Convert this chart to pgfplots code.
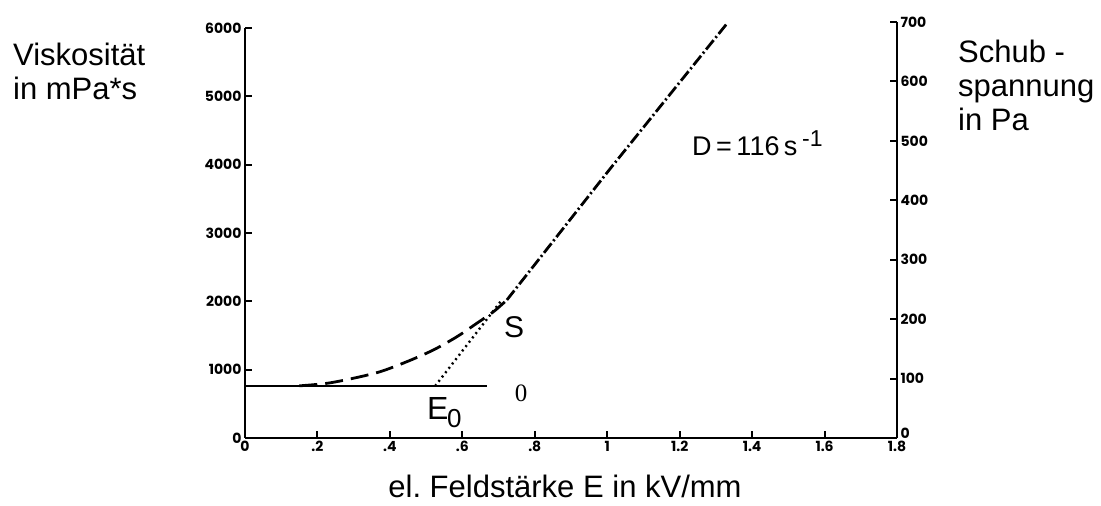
\documentclass[border=0pt]{standalone}
\usepackage{fontspec}
\setmainfont{Liberation Sans}
\newfontfamily\tickfont{Poppins}
\newfontfamily\seriffont{Liberation Serif}
\usepackage{pgfplots}
\pgfplotsset{compat=1.18}

\begin{document}
\begin{tikzpicture}[x=1bp,y=1bp]
\path[use as bounding box] (0,0) rectangle (1101,506);

% left axis: viscosity
\begin{axis}[
    at={(245bp,68bp)}, anchor=south west,
    scale only axis, width=652bp, height=410bp,
    xmin=0, xmax=1.8, ymin=0, ymax=6000,
    axis x line*=bottom, axis y line*=left,
    axis line style={line width=2.6pt, black},
    tick align=inside, major tick length=7bp,
    tick style={line width=2pt, black},
    xtick={0,0.2,0.4,0.6,0.8,1,1.2,1.4,1.6,1.8},
    xticklabels={0,.2,.4,.6,.8,1,1.2,1.4,1.6,1.8},
    ytick={0,1000,2000,3000,4000,5000,6000},
    yticklabels={0,1000,2000,3000,4000,5000,6000},
    ticklabel style={font=\tickfont\bfseries\fontsize{14bp}{14bp}\selectfont},
    clip=false,
]
% base line (field off)
\addplot[black, line width=2.8pt] coordinates {(0,761) (0.668,761)};
% lower part, long dashes
\addplot[black, line width=2.8pt, smooth, dash pattern=on 18bp off 8bp] coordinates {
    (0.15,763) (0.226,800) (0.299,874) (0.373,970) (0.447,1117)
    (0.52,1288) (0.585,1482) (0.64,1679) (0.686,1848) (0.723,2020)};
% upper part, dash-dot
\addplot[black, line width=2.8pt, dash pattern=on 12bp off 3bp on 2bp off 3bp] coordinates {
    (0.723,2020) (0.824,2700) (1.008,3940) (1.331,6068)};
% tangent to E0
\addplot[black, line width=2.4pt, dash pattern=on 2bp off 3.5bp] coordinates {
    (0.525,761) (0.709,2020)};
\end{axis}

% right axis: shear stress
\begin{axis}[
    at={(245bp,68bp)}, anchor=south west,
    scale only axis, width=652bp, height=416bp,
    xmin=0, xmax=1.8, ymin=0, ymax=700,
    axis x line=none, axis y line*=right,
    axis line style={line width=2.6pt, black},
    tick align=inside, major tick length=7bp,
    tick style={line width=2pt, black},
    ytick={0,100,200,300,400,500,600,700},
    yticklabels={\raisebox{9bp}{0},100,200,300,400,500,600,700},
    ticklabel style={font=\tickfont\bfseries\fontsize{14bp}{14bp}\selectfont},
]
\addplot[draw=none] coordinates {(0,0)};
\end{axis}

% axis titles
\node[anchor=base west, font=\fontsize{31bp}{31bp}\selectfont, inner sep=0] at (13,440) {Viskosität};
\node[anchor=base west, font=\fontsize{31bp}{31bp}\selectfont, inner sep=0] at (13,406) {in mPa*s};
\node[anchor=base west, font=\fontsize{31bp}{31bp}\selectfont, inner sep=0] at (958,443) {Schub -};
\node[anchor=base west, font=\fontsize{31bp}{31bp}\selectfont, inner sep=0] at (958,409) {spannung};
\node[anchor=base west, font=\fontsize{31bp}{31bp}\selectfont, inner sep=0] at (958,375) {in Pa};
\node[anchor=base, font=\fontsize{31bp}{31bp}\selectfont, inner sep=0] at (565,8) {el.\ Feldstärke E in kV/mm};

% annotations
\node[anchor=base west, font=\fontsize{27bp}{27bp}\selectfont, inner sep=0] at (692,350) {D\,=\,116\,s};
\node[anchor=base west, font=\fontsize{23bp}{23bp}\selectfont, inner sep=0] at (802,359) {-1};
\node[font=\fontsize{30bp}{30bp}\selectfont, inner sep=0] at (514,179) {S};
\node[anchor=base west, font=\fontsize{32bp}{32bp}\selectfont, inner sep=0] at (427,86) {E};
\node[anchor=base west, font=\fontsize{26bp}{26bp}\selectfont, inner sep=0] at (447,78) {0};
\node[font=\seriffont\fontsize{25bp}{25bp}\selectfont, inner sep=0] at (521,113) {0};
\end{tikzpicture}
\end{document}
